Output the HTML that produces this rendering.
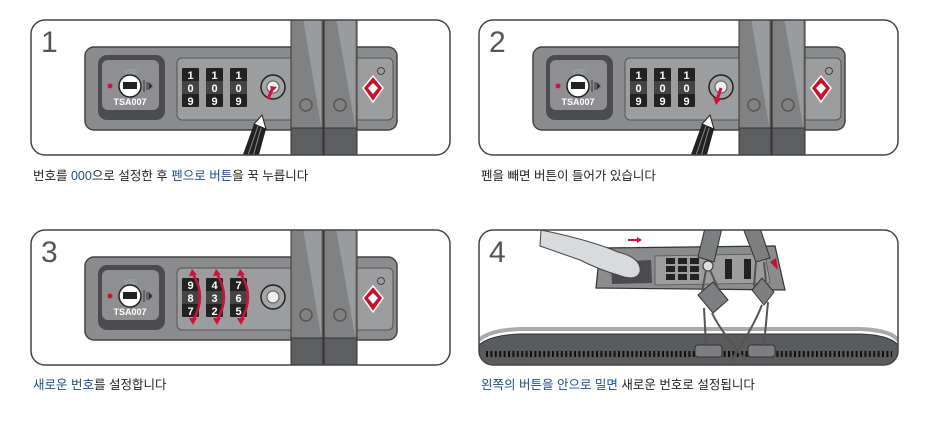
<!DOCTYPE html>
<html><head><meta charset="utf-8">
<style>
html,body{margin:0;padding:0;background:#fff;width:930px;height:442px;overflow:hidden}
svg{display:block}
.cap{font-family:"Liberation Sans","Noto Sans CJK KR",sans-serif;font-size:12.5px;fill:#222}
.b{fill:#1a4f8a}
.d{font-family:"Liberation Sans",sans-serif;font-weight:bold;font-size:11px;fill:#fff;text-anchor:middle}
.n{font-family:"Liberation Sans",sans-serif;font-size:30px;fill:#555}
</style></head><body>
<svg width="930" height="442" viewBox="0 0 930 442" xmlns="http://www.w3.org/2000/svg">
<defs>
<clipPath id="c1"><rect x="0" y="0" width="419" height="135" rx="14"/></clipPath>
<clipPath id="c4"><rect x="479" y="230" width="419" height="135" rx="14"/></clipPath>
</defs>

<g transform="translate(31,20)">
 <g clip-path="url(#c1)">
  <rect x="54" y="27" width="312" height="83" rx="9" fill="#8b8c8e" stroke="#444" stroke-width="1.5"/>
  <rect x="146" y="38" width="216" height="62" rx="5" fill="#9c9d9f" stroke="#555" stroke-width="1"/>
  <rect x="67" y="35" width="67" height="65" rx="9" fill="#4c4c4e"/>
  <rect x="71" y="40" width="57" height="50" rx="6" fill="#8e8f91"/>
  <text x="99" y="56" font-family="Liberation Sans" font-style="italic" font-size="9" fill="#aaa" text-anchor="middle">YIF</text>
  <circle cx="99" cy="66" r="11" fill="#fff" stroke="#222" stroke-width="1.5"/>
  <rect x="92" y="62" width="14" height="7" fill="#222"/>
  <circle cx="79" cy="66" r="2.5" fill="#d3103c"/>
  <path d="M113 60 L113 72 M116 62 L116 70 M118 63 L121 66 L118 69Z" stroke="#333" fill="#333"/>
  <text x="99" y="85" font-family="Liberation Sans" font-weight="bold" font-size="9" fill="#fff" text-anchor="middle">TSA007</text>
  <rect x="151" y="48" width="17" height="39" rx="1" fill="#222"/><rect x="175" y="48" width="17" height="39" rx="1" fill="#222"/><rect x="199" y="48" width="17" height="39" rx="1" fill="#222"/>
  <rect x="151" y="61" width="17" height="13" fill="#444"/><rect x="175" y="61" width="17" height="13" fill="#444"/><rect x="199" y="61" width="17" height="13" fill="#444"/>
  <text class="d" x="159.5" y="59">1</text><text class="d" x="183.5" y="59">1</text><text class="d" x="207.5" y="59">1</text>
  <text class="d" x="159.5" y="72">0</text><text class="d" x="183.5" y="72">0</text><text class="d" x="207.5" y="72">0</text>
  <text class="d" x="159.5" y="85">9</text><text class="d" x="183.5" y="85">9</text><text class="d" x="207.5" y="85">9</text>
  <circle cx="242" cy="67" r="12" fill="#a5a6a8" stroke="#222" stroke-width="1.5"/>
  <circle cx="242" cy="67" r="6" fill="#eee" stroke="#555"/>
  <path d="M237 79 L242 67" stroke="#d3103c" stroke-width="3"/><path d="M239 66 L246 67 L241 72Z" fill="#d3103c"/>
  <path d="M210 140 L223 104 L235 109 L226 142Z" fill="#222"/><path d="M223 104 L231 95 L235 109Z" fill="#fff" stroke="#222"/>
  <path d="M216 138 L227 106 M221 140 L230 108" stroke="#888" stroke-width="1"/>
  <rect x="260" y="-2" width="32" height="110" fill="#808183" stroke="#333"/>
  <path d="M272 -2 L290 -2 L290 106Z" fill="#9a9b9d"/>
  <path d="M260 108 L292 108 L292 140 L260 140Z" fill="#5d5e60" stroke="#333"/>
  <rect x="293" y="-2" width="33" height="110" fill="#808183" stroke="#333"/>
  <path d="M305 -2 L324 -2 L324 106Z" fill="#9a9b9d"/>
  <path d="M293 108 L326 108 L326 140 L293 140Z" fill="#5d5e60" stroke="#333"/>
  <circle cx="275" cy="85" r="6" fill="none" stroke="#555" stroke-width="1.5"/>
  <circle cx="309" cy="85" r="6" fill="none" stroke="#555" stroke-width="1.5"/>
  <path d="M342 56 L352 68 L342 82 L332 68Z" fill="#c8102e" stroke="#fff" stroke-width="1.5"/>
  <path d="M342 63 L347 68 L342 74 L337 68Z" fill="#fff"/>
  <circle cx="350" cy="51" r="3.5" fill="none" stroke="#444"/>
 </g>
 <rect x="0" y="0" width="419" height="135" rx="14" fill="none" stroke="#444" stroke-width="1.5"/>
 <text class="n" x="10" y="32">1</text>
</g>

<g transform="translate(479,20)">
 <g clip-path="url(#c1)">
  <rect x="54" y="27" width="312" height="83" rx="9" fill="#8b8c8e" stroke="#444" stroke-width="1.5"/>
  <rect x="146" y="38" width="216" height="62" rx="5" fill="#9c9d9f" stroke="#555" stroke-width="1"/>
  <rect x="67" y="35" width="67" height="65" rx="9" fill="#4c4c4e"/>
  <rect x="71" y="40" width="57" height="50" rx="6" fill="#8e8f91"/>
  <text x="99" y="56" font-family="Liberation Sans" font-style="italic" font-size="9" fill="#aaa" text-anchor="middle">YIF</text>
  <circle cx="99" cy="66" r="11" fill="#fff" stroke="#222" stroke-width="1.5"/>
  <rect x="92" y="62" width="14" height="7" fill="#222"/>
  <circle cx="79" cy="66" r="2.5" fill="#d3103c"/>
  <path d="M113 60 L113 72 M116 62 L116 70 M118 63 L121 66 L118 69Z" stroke="#333" fill="#333"/>
  <text x="99" y="85" font-family="Liberation Sans" font-weight="bold" font-size="9" fill="#fff" text-anchor="middle">TSA007</text>
  <rect x="151" y="48" width="17" height="39" rx="1" fill="#222"/><rect x="175" y="48" width="17" height="39" rx="1" fill="#222"/><rect x="199" y="48" width="17" height="39" rx="1" fill="#222"/>
  <rect x="151" y="61" width="17" height="13" fill="#444"/><rect x="175" y="61" width="17" height="13" fill="#444"/><rect x="199" y="61" width="17" height="13" fill="#444"/>
  <text class="d" x="159.5" y="59">1</text><text class="d" x="183.5" y="59">1</text><text class="d" x="207.5" y="59">1</text>
  <text class="d" x="159.5" y="72">0</text><text class="d" x="183.5" y="72">0</text><text class="d" x="207.5" y="72">0</text>
  <text class="d" x="159.5" y="85">9</text><text class="d" x="183.5" y="85">9</text><text class="d" x="207.5" y="85">9</text>
  <circle cx="242" cy="67" r="12" fill="#a5a6a8" stroke="#222" stroke-width="1.5"/>
  <circle cx="242" cy="67" r="6" fill="#eee" stroke="#555"/>
  <path d="M242 68 L238 80" stroke="#d3103c" stroke-width="3"/><path d="M234 77 L237 85 L242 79Z" fill="#d3103c"/>
  <path d="M210 140 L223 104 L235 109 L226 142Z" fill="#222"/><path d="M223 104 L231 95 L235 109Z" fill="#fff" stroke="#222"/>
  <path d="M216 138 L227 106 M221 140 L230 108" stroke="#888" stroke-width="1"/>
  <rect x="260" y="-2" width="32" height="110" fill="#808183" stroke="#333"/>
  <path d="M272 -2 L290 -2 L290 106Z" fill="#9a9b9d"/>
  <path d="M260 108 L292 108 L292 140 L260 140Z" fill="#5d5e60" stroke="#333"/>
  <rect x="293" y="-2" width="33" height="110" fill="#808183" stroke="#333"/>
  <path d="M305 -2 L324 -2 L324 106Z" fill="#9a9b9d"/>
  <path d="M293 108 L326 108 L326 140 L293 140Z" fill="#5d5e60" stroke="#333"/>
  <circle cx="275" cy="85" r="6" fill="none" stroke="#555" stroke-width="1.5"/>
  <circle cx="309" cy="85" r="6" fill="none" stroke="#555" stroke-width="1.5"/>
  <path d="M342 56 L352 68 L342 82 L332 68Z" fill="#c8102e" stroke="#fff" stroke-width="1.5"/>
  <path d="M342 63 L347 68 L342 74 L337 68Z" fill="#fff"/>
  <circle cx="350" cy="51" r="3.5" fill="none" stroke="#444"/>
 </g>
 <rect x="0" y="0" width="419" height="135" rx="14" fill="none" stroke="#444" stroke-width="1.5"/>
 <text class="n" x="10" y="32">2</text>
</g>

<g transform="translate(31,230)">
 <g clip-path="url(#c1)">
  <rect x="54" y="27" width="312" height="83" rx="9" fill="#8b8c8e" stroke="#444" stroke-width="1.5"/>
  <rect x="146" y="38" width="216" height="62" rx="5" fill="#9c9d9f" stroke="#555" stroke-width="1"/>
  <rect x="67" y="35" width="67" height="65" rx="9" fill="#4c4c4e"/>
  <rect x="71" y="40" width="57" height="50" rx="6" fill="#8e8f91"/>
  <text x="99" y="56" font-family="Liberation Sans" font-style="italic" font-size="9" fill="#aaa" text-anchor="middle">YIF</text>
  <circle cx="99" cy="66" r="11" fill="#fff" stroke="#222" stroke-width="1.5"/>
  <rect x="92" y="62" width="14" height="7" fill="#222"/>
  <circle cx="79" cy="66" r="2.5" fill="#d3103c"/>
  <path d="M113 60 L113 72 M116 62 L116 70 M118 63 L121 66 L118 69Z" stroke="#333" fill="#333"/>
  <text x="99" y="85" font-family="Liberation Sans" font-weight="bold" font-size="9" fill="#fff" text-anchor="middle">TSA007</text>
  <rect x="151" y="48" width="17" height="39" rx="1" fill="#222"/><rect x="175" y="48" width="17" height="39" rx="1" fill="#222"/><rect x="199" y="48" width="17" height="39" rx="1" fill="#222"/>
  <rect x="151" y="61" width="17" height="13" fill="#444"/><rect x="175" y="61" width="17" height="13" fill="#444"/><rect x="199" y="61" width="17" height="13" fill="#444"/>
  <text class="d" x="159.5" y="59">9</text><text class="d" x="183.5" y="59">4</text><text class="d" x="207.5" y="59">7</text>
  <text class="d" x="159.5" y="72">8</text><text class="d" x="183.5" y="72">3</text><text class="d" x="207.5" y="72">6</text>
  <text class="d" x="159.5" y="85">7</text><text class="d" x="183.5" y="85">2</text><text class="d" x="207.5" y="85">5</text>
  <g fill="none" stroke="#d3103c" stroke-width="2.5">
   <path d="M162 44 Q176 67 162 90"/><path d="M186 44 Q200 67 186 90"/><path d="M210 44 Q224 67 210 90"/>
  </g>
  <g fill="#d3103c">
   <path d="M158 46 L161 39 L166 45Z"/><path d="M158 88 L162 95 L166 88Z"/>
   <path d="M182 46 L185 39 L190 45Z"/><path d="M182 88 L186 95 L190 88Z"/>
   <path d="M206 46 L209 39 L214 45Z"/><path d="M206 88 L210 95 L214 88Z"/>
  </g>
  <circle cx="242" cy="67" r="12" fill="#a5a6a8" stroke="#222" stroke-width="1.5"/>
  <circle cx="242" cy="67" r="6" fill="#eee" stroke="#555"/>
  <rect x="260" y="-2" width="32" height="110" fill="#808183" stroke="#333"/>
  <path d="M272 -2 L290 -2 L290 106Z" fill="#9a9b9d"/>
  <path d="M260 108 L292 108 L292 140 L260 140Z" fill="#5d5e60" stroke="#333"/>
  <rect x="293" y="-2" width="33" height="110" fill="#808183" stroke="#333"/>
  <path d="M305 -2 L324 -2 L324 106Z" fill="#9a9b9d"/>
  <path d="M293 108 L326 108 L326 140 L293 140Z" fill="#5d5e60" stroke="#333"/>
  <circle cx="275" cy="85" r="6" fill="none" stroke="#555" stroke-width="1.5"/>
  <circle cx="309" cy="85" r="6" fill="none" stroke="#555" stroke-width="1.5"/>
  <path d="M342 56 L352 68 L342 82 L332 68Z" fill="#c8102e" stroke="#fff" stroke-width="1.5"/>
  <path d="M342 63 L347 68 L342 74 L337 68Z" fill="#fff"/>
  <circle cx="350" cy="51" r="3.5" fill="none" stroke="#444"/>
 </g>
 <rect x="0" y="0" width="419" height="135" rx="14" fill="none" stroke="#444" stroke-width="1.5"/>
 <text class="n" x="10" y="32">3</text>
</g>

<g clip-path="url(#c4)">
 <path d="M479 345 Q490 335 520 334 L860 334 Q890 335 898 345 L898 370 L479 370Z" fill="#5a5b5d" stroke="#333"/>
 <path d="M479 340 Q490 330 520 329 L860 329 Q890 330 898 340" fill="none" stroke="#aaa" stroke-width="4"/>
 <line x1="486" y1="354" x2="892" y2="354" stroke="#111" stroke-width="6" stroke-dasharray="2 2.4"/>
 <path d="M600 248 L775 246 L785 290 L596 288Z" fill="#8b8c8e" stroke="#333" stroke-width="1.2"/>
 <path d="M655 256 L765 254 L770 283 L655 285Z" fill="#9c9d9f" stroke="#555" stroke-width="0.8"/>
 <g fill="#222">
  <rect x="666" y="258" width="9" height="6"/><rect x="678" y="258" width="9" height="6"/><rect x="690" y="258" width="9" height="6"/>
  <rect x="666" y="266" width="9" height="6"/><rect x="678" y="266" width="9" height="6"/><rect x="690" y="266" width="9" height="6"/>
  <rect x="666" y="274" width="9" height="6"/><rect x="678" y="274" width="9" height="6"/><rect x="690" y="274" width="9" height="6"/>
  <rect x="725" y="259" width="7" height="20"/><rect x="744" y="259" width="7" height="20"/>
 </g>
 <circle cx="708" cy="266" r="5" fill="#ddd" stroke="#333"/>
 <path d="M611 262 L651 260 L652 283 L612 284Z" fill="#4c4c4e"/>
 <path d="M541 230 Q590 240 618 252 Q642 258 640 272 Q636 282 618 275 Q600 270 580 260 L540 246Z" fill="#d9dadb" stroke="#444"/>
 <path d="M628 240 L638 240" stroke="#d3103c" stroke-width="2"/><path d="M637 237 L642 240 L637 243Z" fill="#d3103c"/>
 <g fill="#7d7e80" stroke="#333">
  <path d="M705 228 L722 228 L714 262 L698 257Z"/>
  <path d="M743 228 L760 228 L770 258 L756 262Z"/>
  <path d="M698 295 L713 282 L728 300 L713 313Z"/>
  <path d="M752 290 L762 278 L774 292 L764 305Z"/>
  <rect x="695" y="345" width="27" height="12" rx="3"/>
  <rect x="748" y="345" width="27" height="12" rx="3"/>
 </g>
 <g fill="none" stroke="#555" stroke-width="2">
  <path d="M706 270 L702 292 M710 270 L718 288"/>
  <path d="M756 262 L754 286 M764 262 L766 282"/>
  <path d="M712 313 Q720 330 745 360 M704 308 L706 345"/>
  <path d="M762 305 Q752 330 730 362 M768 302 L764 345"/>
 </g>
 <path d="M770 262 L776 258 L778 270Z" fill="#c8102e"/>
</g>
<rect x="479" y="230" width="419" height="135" rx="14" fill="none" stroke="#444" stroke-width="1.5"/>
<text class="n" x="489" y="262">4</text>

<text class="cap" x="33" y="180">번호를 <tspan class="b">000</tspan>으로 설정한 후 <tspan class="b">펜으로 버튼</tspan>을 꾹 누릅니다</text>
<text class="cap" x="481" y="180">펜을 빼면 버튼이 들어가 있습니다</text>
<text class="cap" x="33" y="389"><tspan class="b">새로운 번호</tspan>를 설정합니다</text>
<text class="cap" x="481" y="389"><tspan class="b">왼쪽의 버튼을 안으로 밀면</tspan> 새로운 번호로 설정됩니다</text>
</svg>
</body></html>
